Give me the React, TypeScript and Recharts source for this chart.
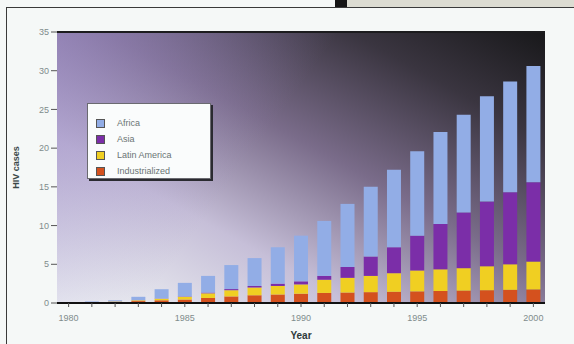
import React from 'react';
import {
  BarChart,
  Bar,
  XAxis,
  YAxis,
  CartesianGrid,
  Legend,
  ReferenceLine,
} from 'recharts';

const years = [
  '1980', '1981', '1982', '1983', '1984', '1985', '1986', '1987', '1988', '1989', '1990',
  '1991', '1992', '1993', '1994', '1995', '1996', '1997', '1998', '1999', '2000',
];
const industrialized = [0.05, 0.1, 0.15, 0.25, 0.35, 0.45, 0.65, 0.85, 1.0, 1.1, 1.2, 1.3, 1.35, 1.4, 1.45, 1.5, 1.55, 1.6, 1.65, 1.7, 1.75];
const latinAmerica = [0.02, 0.03, 0.05, 0.1, 0.2, 0.35, 0.6, 0.8, 1.0, 1.1, 1.2, 1.7, 1.9, 2.1, 2.4, 2.7, 2.8, 2.9, 3.1, 3.3, 3.6];
const asia = [0, 0, 0.01, 0.02, 0.03, 0.05, 0.1, 0.15, 0.2, 0.3, 0.4, 0.5, 1.4, 2.5, 3.35, 4.5, 5.85, 7.2, 8.35, 9.3, 10.25];
const africa = [0.03, 0.07, 0.14, 0.43, 1.2, 1.75, 2.15, 3.1, 3.6, 4.7, 5.9, 7.1, 8.15, 9.0, 10.0, 10.9, 11.9, 12.6, 13.6, 14.3, 15.0];
const yTicks = [0, 5, 10, 15, 20, 25, 30, 35];
const legendOrder = ['Africa', 'Asia', 'Latin America', 'Industrialized'];

const data = years.map((year, i) => ({
  year,
  industrialized: industrialized[i],
  latinAmerica: latinAmerica[i],
  asia: asia[i],
  africa: africa[i],
}));

const font = '"Liberation Sans", Arial, sans-serif';
const tickStyle = { fontSize: 9, fill: '#7f8c8c', fontFamily: font };

const LegendBox = ({ payload }: any) => {
  const items = [...(payload || [])].sort(
    (a: any, b: any) => legendOrder.indexOf(a.value) - legendOrder.indexOf(b.value)
  );
  return (
    <div
      style={{
        width: 124,
        height: 76,
        background: '#fafcfc',
        border: '1px solid #6a6a70',
        boxShadow: '2px 2px 0 #2a2a30',
        boxSizing: 'border-box',
        paddingTop: 11,
        paddingLeft: 8,
        fontFamily: font,
        textAlign: 'left',
      }}
    >
      {items.map((p: any) => (
        <div key={p.value} style={{ display: 'flex', alignItems: 'center', height: 16 }}>
          <span
            style={{
              width: 9,
              height: 9,
              background: p.color,
              border: '1px solid #555',
              marginRight: 12,
              boxSizing: 'border-box',
            }}
          />
          <span style={{ fontSize: 9, color: '#6a7474' }}>{p.value}</span>
        </div>
      ))}
    </div>
  );
};

export default function App() {
  return (
    <div
      style={{
        position: 'absolute',
        left: 0,
        top: 0,
        width: 574,
        height: 344,
        background: '#f5f8f7',
        overflow: 'hidden',
      }}
    >
      {/* scan frame bits */}
      <div style={{ position: 'absolute', left: 346, top: 0, width: 228, height: 7, background: '#dcdcd2' }} />
      <div style={{ position: 'absolute', left: 335, top: 0, width: 12, height: 7, background: '#151515' }} />
      <div style={{ position: 'absolute', left: 6, top: 7, width: 568, height: 1, background: '#3a3a3a' }} />
      <div style={{ position: 'absolute', left: 6, top: 7, width: 1, height: 337, background: '#3a3a3a' }} />
      <div style={{ position: 'absolute', left: 0, top: 0 }}>
        <BarChart
          width={574}
          height={344}
          data={data}
          margin={{ top: 32, right: 0, bottom: 0, left: 6 }}
          barCategoryGap="20%"
        >
          <defs>
            <linearGradient id="bgDiag" x1="0" y1="1" x2="1" y2="0">
              <stop offset="0" stopColor="#f2f6f6" />
              <stop offset="0.3" stopColor="#c6bfd8" />
              <stop offset="0.55" stopColor="#7a6c8a" />
              <stop offset="0.8" stopColor="#3a3540" />
              <stop offset="1" stopColor="#18181a" />
            </linearGradient>
            <linearGradient id="bgTint" x1="0" y1="0" x2="1" y2="0.4">
              <stop offset="0" stopColor="#9a88c8" stopOpacity={0.6} />
              <stop offset="0.5" stopColor="#9a88c8" stopOpacity={0} />
            </linearGradient>
          </defs>
          <CartesianGrid yAxisId="left" horizontal={false} vertical={false} fill="url(#bgDiag)" />
          <CartesianGrid yAxisId="left" horizontal={false} vertical={false} fill="url(#bgTint)" />
          <XAxis
            dataKey="year"
            interval={0}
            tickFormatter={(v: string) => (Number(v) % 5 === 0 ? v : '')}
            tick={tickStyle}
            tickSize={4}
            tickMargin={8}
            tickLine={{ stroke: '#555' }}
            axisLine={{ stroke: '#111', strokeWidth: 2 }}
            height={41}
            label={{
              value: 'Year',
              position: 'insideBottom',
              offset: 5,
              style: { fontSize: 10, fontWeight: 'bold', fill: '#2e3a3a', fontFamily: font },
            }}
          />
          <YAxis
            yAxisId="left"
            orientation="left"
            domain={[0, 35]}
            ticks={yTicks}
            width={51}
            tick={tickStyle}
            tickSize={6}
            tickLine={{ stroke: '#555' }}
            axisLine={false}
            label={{
              value: 'HIV cases',
              angle: -90,
              position: 'insideLeft',
              offset: 10,
              style: { fontSize: 9, fontWeight: 'bold', fill: '#3a4848', fontFamily: font, textAnchor: 'middle' },
            }}
          />
          <YAxis
            yAxisId="right"
            orientation="right"
            domain={[0, 35]}
            ticks={yTicks}
            width={29}
            tick={tickStyle}
            tickSize={5}
            tickLine={{ stroke: '#555' }}
            axisLine={false}
          />
          <ReferenceLine yAxisId="left" y={35} stroke="#1c1c1e" strokeWidth={2} />
          <Legend
            verticalAlign="middle"
            align="center"
            content={<LegendBox />}
            wrapperStyle={{ position: 'absolute', left: 87, top: 103, width: 124 }}
          />
          <Bar yAxisId="left" dataKey="industrialized" name="Industrialized" stackId="a" fill="#d4511e" isAnimationActive={false} />
          <Bar yAxisId="left" dataKey="latinAmerica" name="Latin America" stackId="a" fill="#f0cf22" isAnimationActive={false} />
          <Bar yAxisId="left" dataKey="asia" name="Asia" stackId="a" fill="#7b2ea8" isAnimationActive={false} />
          <Bar yAxisId="left" dataKey="africa" name="Africa" stackId="a" fill="#92ade6" isAnimationActive={false} />
        </BarChart>
      </div>
    </div>
  );
}
